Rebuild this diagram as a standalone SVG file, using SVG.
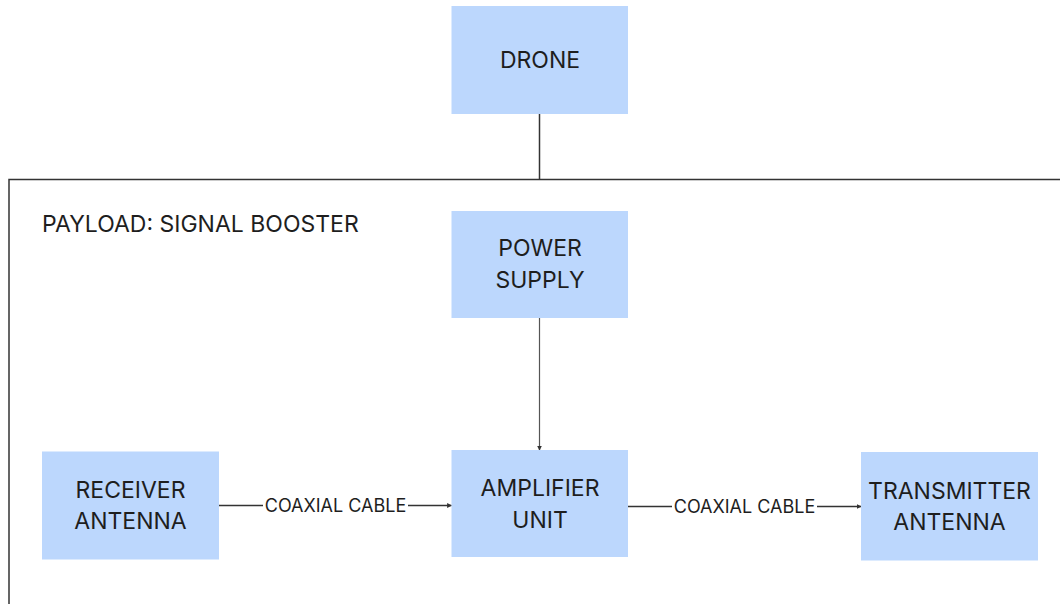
<svg xmlns="http://www.w3.org/2000/svg" width="1060" height="604" viewBox="0 0 1060 604">
  <defs>
    <style>
      .box { fill: #bcd7fd; }
      .lbl { font-family: Inter, "Liberation Sans", sans-serif; font-size: 23px; fill: #1e1e1e; text-anchor: middle; dominant-baseline: central; }
      .edge { font-family: Inter, "Liberation Sans", sans-serif; font-size: 18px; fill: #1e1e1e; text-anchor: middle; dominant-baseline: central; }
      .title { font-family: Inter, "Liberation Sans", sans-serif; font-size: 23px; fill: #1e1e1e; dominant-baseline: central; }
      .wire { stroke: #333; stroke-width: 1.5; fill: none; }
      .thin { stroke: #555; stroke-width: 1.2; fill: none; }
    </style>
    <marker id="arrow" viewBox="0 0 8 8" refX="7" refY="4" markerWidth="5" markerHeight="5" orient="auto" markerUnits="userSpaceOnUse">
      <path d="M0,0 L8,4 L0,8 z" fill="#333"/>
    </marker>
  </defs>
  <rect width="1060" height="604" fill="#ffffff"/>

  <!-- payload enclosure -->
  <g id="payload">
    <path d="M9,604 L9,179.5 L1060,179.5" class="wire"/>
    <text class="title" x="42" y="224">PAYLOAD: SIGNAL BOOSTER</text>
  </g>

  <!-- connectors -->
  <g id="connectors">
    <line class="wire" x1="539.5" y1="114" x2="539.5" y2="179.5"/>
    <line class="thin" x1="539.5" y1="318" x2="539.5" y2="450" marker-end="url(#arrow)"/>
    <line class="wire" x1="219" y1="505.5" x2="263" y2="505.5"/>
    <line class="wire" x1="408" y1="505.5" x2="451.5" y2="505.5" marker-end="url(#arrow)"/>
    <text class="edge" x="335.5" y="505">COAXIAL CABLE</text>
    <line class="wire" x1="628" y1="506.5" x2="672" y2="506.5"/>
    <line class="wire" x1="817" y1="506.5" x2="861" y2="506.5" marker-end="url(#arrow)"/>
    <text class="edge" x="744.5" y="506">COAXIAL CABLE</text>
  </g>

  <g id="drone">
    <rect class="box" x="451.5" y="6" width="176.5" height="108"/>
    <text class="lbl" x="540" y="60">DRONE</text>
  </g>

  <g id="power-supply">
    <rect class="box" x="451.5" y="211" width="176.5" height="107"/>
    <text class="lbl" x="540" y="248">POWER</text>
    <text class="lbl" x="540" y="280">SUPPLY</text>
  </g>

  <g id="amplifier-unit">
    <rect class="box" x="451.5" y="450" width="176.5" height="107"/>
    <text class="lbl" x="540" y="488">AMPLIFIER</text>
    <text class="lbl" x="540" y="520">UNIT</text>
  </g>

  <g id="receiver-antenna">
    <rect class="box" x="42" y="451.5" width="177" height="108"/>
    <text class="lbl" x="130.5" y="490">RECEIVER</text>
    <text class="lbl" x="130.5" y="521">ANTENNA</text>
  </g>

  <g id="transmitter-antenna">
    <rect class="box" x="861" y="452" width="177" height="108.5"/>
    <text class="lbl" x="949.5" y="491">TRANSMITTER</text>
    <text class="lbl" x="949.5" y="522">ANTENNA</text>
  </g>
</svg>
